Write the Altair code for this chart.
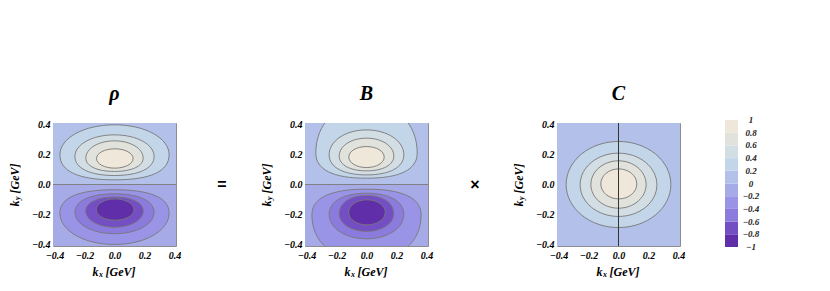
import altair as alt
import pandas as pd

# ---------------- data ----------------
band_thresholds = [-0.8, -0.6, -0.4, -0.2, 0.0, 0.2, 0.4, 0.6, 0.8]
band_colors = ["#5f2ea8", "#744fc3", "#8a7bdd", "#9a94e6", "#a6abe8",
               "#b2c0ea", "#c3d6e9", "#d3dee4", "#e2e2dc", "#efe7d9"]

axis_ticks = [-0.4, -0.2, 0.0, 0.2, 0.4]
plot_domain = [-0.41, 0.41]

panel_names = ["ρ", "B", "C"]
operators = ["=", "×"]
axis_title_parts = ["k", "x", "y", "[GeV]"]

# contour lines: panel, level, centre, half-width, extent above / below centre
c_panel = ["ρ"] * 8 + ["B"] * 8 + ["C"] * 4
c_level = [0.2, 0.4, 0.6, 0.8, -0.2, -0.4, -0.6, -0.8,
           0.2, 0.4, 0.6, 0.8, -0.2, -0.4, -0.6, -0.8,
           0.2, 0.4, 0.6, 0.8]
c_cx = [0.0, 0.0, 0.0, 0.002, 0.0, 0.0, 0.0, 0.004,
        0.0, 0.0, 0.0, 0.0, 0.0, 0.0, 0.0, 0.003,
        0.0, 0.0, 0.0, 0.002]
c_cy = [0.198, 0.187, 0.176, 0.173, -0.190, -0.186, -0.177, -0.168,
        0.209, 0.198, 0.190, 0.183, -0.202, -0.200, -0.195, -0.186,
        0.0, -0.002, 0.0, 0.004]
c_a = [0.364, 0.264, 0.191, 0.122, 0.364, 0.264, 0.192, 0.126,
       0.338, 0.249, 0.182, 0.118, 0.364, 0.249, 0.182, 0.122,
       0.349, 0.256, 0.184, 0.120]
c_up = [0.200, 0.144, 0.115, 0.065, 0.155, 0.124, 0.094, 0.072,
        0.330, 0.166, 0.119, 0.070, 0.171, 0.142, 0.122, 0.084,
        0.287, 0.211, 0.158, 0.100]
c_down = [0.167, 0.127, 0.089, 0.064, 0.210, 0.142, 0.108, 0.070,
          0.167, 0.134, 0.099, 0.070, 0.300, 0.162, 0.118, 0.083,
          0.287, 0.211, 0.158, 0.100]
c_kup = [0.56, 0.56, 0.56, 0.56, 0.66, 0.62, 0.60, 0.56,
         0.60, 0.56, 0.56, 0.56, 0.66, 0.62, 0.60, 0.56,
         0.5523, 0.5523, 0.5523, 0.5523]
c_kdown = [0.66, 0.62, 0.60, 0.56, 0.56, 0.56, 0.56, 0.56,
           0.66, 0.62, 0.60, 0.56, 0.62, 0.56, 0.56, 0.56,
           0.5523, 0.5523, 0.5523, 0.5523]

# background bands outside the outermost contours
bg_panel = ["ρ", "ρ", "B", "B", "C"]
bg_y0 = [0.0, -0.41, 0.0, -0.41, -0.41]
bg_y1 = [0.41, 0.0, 0.41, 0.0, 0.41]
bg_value = [0.1, -0.1, 0.1, -0.1, 0.1]

hline_panels = ["ρ", "B"]   # zero contour k_y = 0
vline_panels = ["C"]        # k_x = 0 line

legend_lo = [-1.0, -0.8, -0.6, -0.4, -0.2, 0.0, 0.2, 0.4, 0.6, 0.8]
legend_hi = [-0.8, -0.6, -0.4, -0.2, 0.0, 0.2, 0.4, 0.6, 0.8, 1.0]
legend_ticks = [1.0, 0.8, 0.6, 0.4, 0.2, 0.0, -0.2, -0.4, -0.6, -0.8, -1.0]
legend_labels = ["1", "0.8", "0.6", "0.4", "0.2", "0",
                 "\u22120.2", "\u22120.4", "\u22120.6", "\u22120.8", "\u22121"]

# ---------------- tables ----------------
def shape_path(a, up, down, ku, kd):
    U = up / a
    D = down / a
    return (f"M1,0 C1,{-ku*U:.4f} {ku:.4f},{-U:.4f} 0,{-U:.4f} "
            f"C{-ku:.4f},{-U:.4f} -1,{-ku*U:.4f} -1,0 "
            f"C-1,{kd*D:.4f} {-kd:.4f},{D:.4f} 0,{D:.4f} "
            f"C{kd:.4f},{D:.4f} 1,{kd*D:.4f} 1,0 Z")

cdf = pd.DataFrame({
    "panel": c_panel, "level": c_level, "cx": c_cx, "cy": c_cy,
    "w": [2 * a for a in c_a],
    "path": [shape_path(*t) for t in zip(c_a, c_up, c_down, c_kup, c_kdown)],
    "v": [l + 0.1 if l > 0 else l - 0.1 for l in c_level],
    "ord": [abs(l) for l in c_level],
})
bgdf = pd.DataFrame({"panel": bg_panel, "x0": plot_domain[0], "x1": plot_domain[1],
                     "y0": bg_y0, "y1": bg_y1, "v": bg_value})

W = 123
SERIF = "'Times New Roman', 'Liberation Serif', serif"
color_scale = alt.Scale(type="threshold", domain=band_thresholds, range=band_colors)
XS = alt.Scale(domain=plot_domain, nice=False, zero=False)
YS = alt.Scale(domain=plot_domain, nice=False, zero=False)
axis_common = dict(values=axis_ticks, format=".1f", labelFont=SERIF, labelFontSize=10,
                   labelFontStyle="italic", labelFontWeight="bold", labelColor="black",
                   ticks=False, domain=False, grid=False, title=None, labelFlush=False)
XA = alt.Axis(labelPadding=4, **axis_common)
YA = alt.Axis(labelPadding=3, **axis_common)


def text_part(txt, **kw):
    return alt.Chart(pd.DataFrame({"t": [txt]})).mark_text(
        font=SERIF, fontStyle="italic", fontWeight="bold", color="black",
        align="left", baseline="middle", **kw)


def panel(name):
    bg = alt.Chart(bgdf[bgdf.panel == name]).mark_rect(clip=True).encode(
        x=alt.X("x0:Q", scale=XS, axis=XA), x2="x1:Q",
        y=alt.Y("y0:Q", scale=YS, axis=YA), y2="y1:Q",
        fill=alt.Fill("v:Q", scale=color_scale, legend=None))
    ct = alt.Chart(cdf[cdf.panel == name]).mark_point(
        filled=True, opacity=1, stroke="#777777", strokeWidth=0.9, clip=True).encode(
        x=alt.X("cx:Q", scale=XS, axis=XA),
        y=alt.Y("cy:Q", scale=YS, axis=YA),
        size=alt.Size("w:Q", scale=alt.Scale(type="pow", exponent=2, nice=False, zero=False,
                                             domain=[0, plot_domain[1] - plot_domain[0]],
                                             range=[0, W * W]), legend=None),
        shape=alt.Shape("path:N", scale=None),
        fill=alt.Fill("v:Q", scale=color_scale, legend=None),
        order=alt.Order("ord:Q"))
    layers = [bg, ct]
    if name in hline_panels:
        layers.append(alt.Chart(pd.DataFrame({"y": [0.0], "x0": [plot_domain[0]], "x1": [plot_domain[1]]}))
                      .mark_rule(color="#777777", strokeWidth=0.9).encode(
                          x=alt.X("x0:Q", scale=XS, axis=XA), x2="x1:Q",
                          y=alt.Y("y:Q", scale=YS, axis=YA)))
    if name in vline_panels:
        layers.append(alt.Chart(pd.DataFrame({"x": [0.0], "y0": [plot_domain[0]], "y1": [plot_domain[1]]}))
                      .mark_rule(color="#333333", strokeWidth=1).encode(
                          x=alt.X("x:Q", scale=XS, axis=XA),
                          y=alt.Y("y0:Q", scale=YS, axis=YA), y2="y1:Q"))
    # x axis title  k_x [GeV]
    cxp, cyp = W / 2, 149
    layers += [
        text_part(axis_title_parts[0], fontSize=12, dx=-22).encode(
            x=alt.value(cxp), y=alt.value(cyp), text="t:N"),
        text_part(axis_title_parts[1], fontSize=8, dx=-15.5, dy=3).encode(
            x=alt.value(cxp), y=alt.value(cyp), text="t:N"),
        text_part(axis_title_parts[3], fontSize=12, dx=-9).encode(
            x=alt.value(cxp), y=alt.value(cyp), text="t:N"),
    ]
    # y axis title  k_y [GeV] (rotated)
    yx, yy = -38, W / 2
    layers += [
        text_part(axis_title_parts[0], fontSize=12, dx=-22, angle=270).encode(
            x=alt.value(yx), y=alt.value(yy), text="t:N"),
        text_part(axis_title_parts[2], fontSize=8, dx=-15.5, dy=3, angle=270).encode(
            x=alt.value(yx), y=alt.value(yy), text="t:N"),
        text_part(axis_title_parts[3], fontSize=12, dx=-9, angle=270).encode(
            x=alt.value(yx), y=alt.value(yy), text="t:N"),
    ]
    return alt.layer(*layers).properties(
        width=W, height=W,
        view=alt.ViewBackground(stroke="#8c8c8c", strokeWidth=1),
        title=alt.TitleParams(text=name, font=SERIF, fontSize=20, fontStyle="italic",
                              fontWeight="bold", color="black", anchor="middle",
                              frame="group", offset=16))


def operator(sym, xpos):
    return alt.Chart(pd.DataFrame({"s": [sym]})).mark_text(
        font="Liberation Sans", fontSize=16, fontWeight="bold", color="black").encode(
        x=alt.value(xpos), y=alt.value(W / 2), text="s:N").properties(width=129, height=W)


legdf = pd.DataFrame({"lo": legend_lo, "hi": legend_hi,
                      "v": [(a + b) / 2 for a, b in zip(legend_lo, legend_hi)]})
labdf = pd.DataFrame({"t": legend_ticks, "lab": legend_labels})
LS = alt.Scale(domain=[-1, 1], nice=False, zero=False)
legend = alt.layer(
    alt.Chart(legdf).mark_rect(yOffset=-3, y2Offset=-3).encode(
        x=alt.value(45), x2=alt.value(58),
        y=alt.Y("lo:Q", scale=LS, axis=None), y2="hi:Q",
        fill=alt.Fill("v:Q", scale=color_scale, legend=None)),
    alt.Chart(labdf).mark_text(dy=-3, font=SERIF, fontSize=9, fontStyle="italic",
                               fontWeight="bold", color="#222222", align="center",
                               baseline="middle").encode(
        x=alt.value(71), y=alt.Y("t:Q", scale=LS, axis=None), text="lab:N"),
).properties(width=58, height=127)

chart = alt.hconcat(
    panel(panel_names[0]), operator(operators[0], 46),
    panel(panel_names[1]), operator(operators[1], 47),
    panel(panel_names[2]), legend,
    spacing=0, bounds="flush",
).properties(
    padding={"left": 0, "top": 74, "right": 0, "bottom": 0}
).configure_view(stroke=None)

chart.save("out.html", embed_options={"renderer": "svg", "actions": False})
